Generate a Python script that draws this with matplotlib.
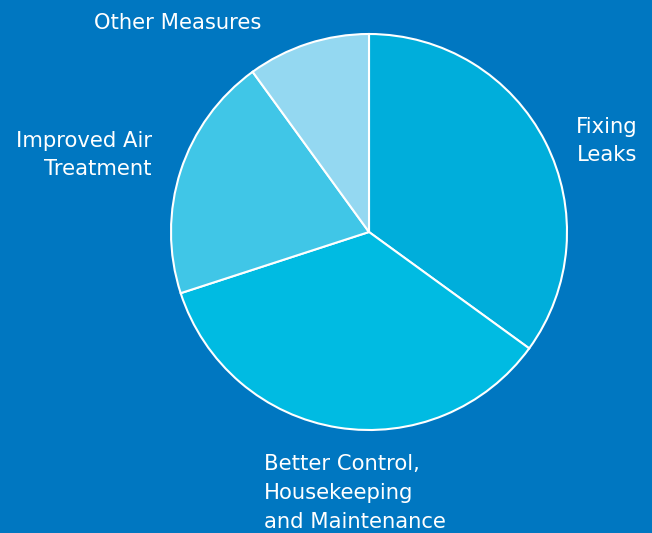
import matplotlib
matplotlib.use("Agg")
import matplotlib.pyplot as plt

labels = ["Fixing\nLeaks", "Better Control,\nHousekeeping\nand Maintenance", "Improved Air\nTreatment", "Other Measures"]
values = [35, 35, 20, 10]
colors = ["#00AEDB", "#00BBE2", "#40C6E7", "#94D8F1"]
bg = "#0077C1"

W, H = 652, 533
fig = plt.figure(figsize=(W / 100, H / 100), dpi=100, facecolor=bg)
ax = fig.add_axes([0, 0, 1, 1])
ax.set_facecolor(bg)
ax.set_xlim(0, W)
ax.set_ylim(0, H)
ax.set_aspect("equal")
ax.axis("off")

ax.pie(values, colors=colors, startangle=90, counterclock=False,
       center=(369, H - 232), radius=198,
       wedgeprops=dict(edgecolor="white", linewidth=1.5))
ax.set_xlim(0, W)
ax.set_ylim(0, H)

fs = 15.2
tkw = dict(color="white", fontsize=fs, family="DejaVu Sans", linespacing=1.55)
ax.text(637, H - 141, labels[0], ha="right", va="center", multialignment="right", **tkw)
ax.text(264, H - 493, labels[1], ha="left", va="center", multialignment="left", **tkw)
ax.text(152, H - 155, labels[2], ha="right", va="center", multialignment="right", **tkw)
ax.text(178, H - 23, labels[3], ha="center", va="center", **tkw)

fig.savefig("out.png", dpi=100, facecolor=bg)
